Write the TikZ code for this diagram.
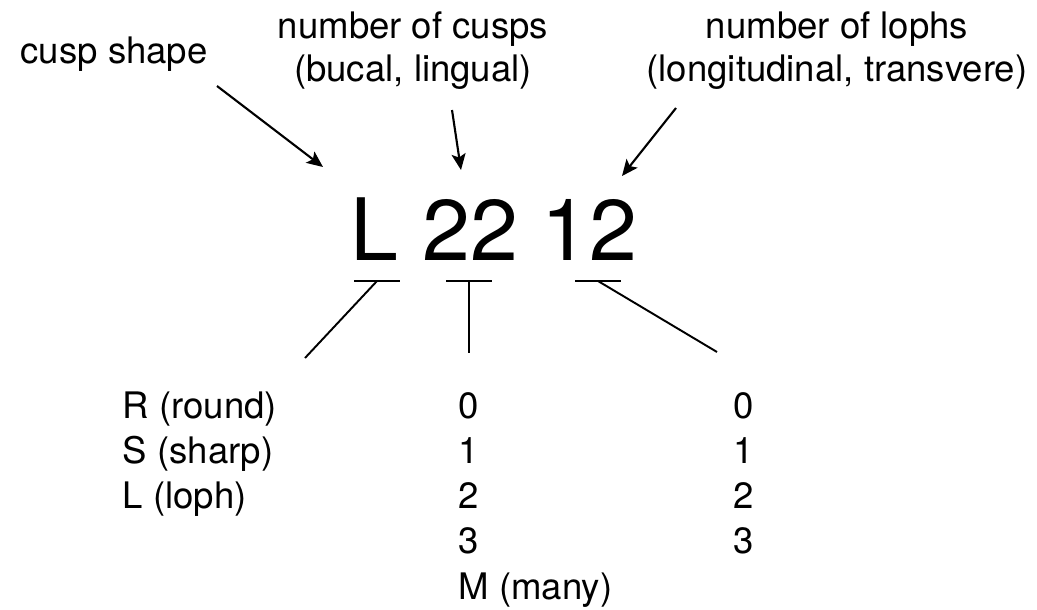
\documentclass[tikz,border=0pt]{standalone}
\usepackage{fontspec}
\setmainfont{TeX Gyre Heros}
\usetikzlibrary{arrows.meta}

\begin{document}
\begin{tikzpicture}[
    lbl/.style={inner sep=0pt, anchor=base, font=\fontsize{10.4}{12}\selectfont},
    val/.style={inner sep=0pt, anchor=base west, font=\fontsize{10.4}{12}\selectfont},
    ptr/.style={line width=0.6pt, -{Stealth[length=4.6pt,width=4pt,inset=1pt]}},
    lnk/.style={line width=0.55pt}]
\useasboundingbox (0,0) rectangle (10.37,-6.09);

% labels on top
\node[lbl, anchor=base west] (shape) at (0.20,-0.63) {cusp shape};
\node[lbl] (cusps) at (4.13,-0.38) {number of cusps};
\node[lbl] (cuspsub) at (4.13,-0.81) {(bucal, lingual)};
\node[lbl] (lophs) at (8.37,-0.38) {number of lophs};
\node[lbl] (lophsub) at (8.37,-0.81) {(longitudinal, transvere)};

% the code
\node[inner sep=0pt, anchor=base, font=\fontsize{24.5}{29}\selectfont] (code) at (4.94,-2.60) {L 22 12};

% arrows
\coordinate (shapefrom) at (2.17,-0.86);
\coordinate (shapeto) at (3.23,-1.67);
\coordinate (cuspsfrom) at (4.52,-1.10);
\coordinate (cuspsto) at (4.61,-1.70);
\coordinate (lophsfrom) at (6.76,-1.08);
\coordinate (lophsto) at (6.22,-1.76);
\draw[ptr] (shapefrom) -- (shapeto);
\draw[ptr] (cuspsfrom) -- (cuspsto);
\draw[ptr] (lophsfrom) -- (lophsto);

% underlines and leaders
\draw[lnk] (3.54,-2.81) -- (4.00,-2.81);
\draw[lnk] (4.46,-2.81) -- (4.92,-2.81);
\draw[lnk] (5.75,-2.81) -- (6.21,-2.81);
\coordinate (u1) at (3.77,-2.81);
\coordinate (u2) at (4.69,-2.81);
\coordinate (u3) at (5.98,-2.81);
\coordinate (e1) at (3.05,-3.58);
\coordinate (e2) at (4.69,-3.53);
\coordinate (e3) at (7.17,-3.52);
\draw[lnk] (u1) -- (e1);
\draw[lnk] (u2) -- (e2);
\draw[lnk] (u3) -- (e3);

% values
\foreach \txt [count=\i] in {R (round), S (sharp), L (loph)}
  \node[val] (shape\i) at (1.22,{-4.18-0.453*(\i-1)}) {\txt};
\foreach \txt [count=\i] in {0, 1, 2, 3, M (many)}
  \node[val] (cusps\i) at (4.58,{-4.18-0.453*(\i-1)}) {\txt};
\foreach \txt [count=\i] in {0, 1, 2, 3}
  \node[val] (lophs\i) at (7.33,{-4.18-0.453*(\i-1)}) {\txt};
\end{tikzpicture}
\end{document}
